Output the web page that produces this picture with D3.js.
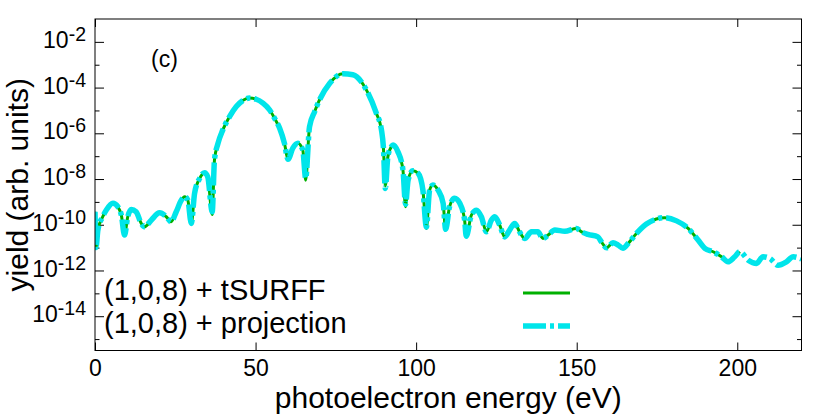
<!DOCTYPE html>
<html>
<head>
<meta charset="utf-8">
<script src="https://cdn.jsdelivr.net/npm/d3@7"></script>
<style>
body { margin: 0; background: #fff; }
text { font-family: "Liberation Sans", Arial, sans-serif; fill: #000; }
</style>
</head>
<body>
<script>
var width = 830;
var height = 415;

// photoelectron energy (eV)
var energy = [0, 0.3, 0.9, 2.4, 3.5, 5.6, 7.1, 8.2, 9.2, 10.2, 11.3, 12.8, 14.4, 15.4, 17.5, 20.1, 22.2, 23.7, 25.3, 26.9,
    27.9, 28.9, 30.0, 31.0, 32.6, 34.1, 35.1, 36.5, 37.2, 38.3, 39.8, 41.9, 44.0, 46.0, 48.1, 50.2, 52.3, 54.4, 55.9, 57.5,
    59.0, 60.1, 61.6, 63.2, 64.7, 65.6, 66.8, 68.4, 69.9, 73.1, 77.2, 80.3, 84.5, 87.6, 89.2, 89.8, 90.4, 91.2, 92.3, 92.8,
    94.3, 95.9, 96.7, 97.5, 99.0, 100.6, 102.1, 103.2, 104.2, 105.2, 106.8, 108.4, 109.2, 110.4, 112.0, 113.6, 115.1, 115.6, 117.2, 118.8,
    120.3, 121.9, 123.4, 124.5, 126.0, 127.6, 129.1, 130.7, 132.2, 133.8, 135.9, 137.9, 139.5, 141.1, 143.2, 146.3, 149.9, 151.5, 153.5, 156.6,
    157.7, 159.3, 161.3, 162.9, 164.4, 166.0, 168.6, 171.7, 174.8, 177.4, 181.1, 184.7, 187.8, 189.9, 192.5, 195.1, 197.1, 199.2, 200.8, 203.4,
    206.0, 208.0, 210.1, 212.7, 215.3, 217.4, 219.5, 220];

// log10 of yield, (1,0,8) + projection
var projection = [-9.43, -11.0, -10.23, -9.65, -9.36, -9.06, -9.21, -9.58, -10.45, -9.65, -9.33, -9.43, -9.94, -10.09, -9.80, -9.48, -9.65, -9.87, -9.43, -8.92,
    -8.77, -8.92, -9.94, -8.63, -7.97, -7.72, -7.90, -9.43, -7.17, -6.44, -5.85, -5.27, -4.83, -4.57, -4.46, -4.51, -4.68, -4.98, -5.34, -5.78,
    -6.44, -7.14, -6.65, -6.44, -6.73, -7.97, -5.71, -5.05, -4.54, -3.81, -3.40, -3.44, -4.10, -5.12, -5.85, -6.60, -8.41, -7.02, -6.58, -6.51,
    -6.80, -7.61, -9.10, -8.04, -7.64, -7.75, -8.48, -10.10, -8.48, -8.26, -8.48, -9.06, -10.20, -9.21, -8.84, -9.06, -9.80, -10.50, -9.58, -9.36,
    -9.65, -10.31, -9.80, -9.65, -10.01, -10.53, -10.23, -9.94, -10.31, -10.60, -10.31, -10.31, -10.60, -10.45, -10.23, -10.28, -10.16, -10.31, -10.42, -10.53,
    -10.75, -11.01, -10.79, -10.89, -11.03, -10.82, -10.38, -9.97, -9.75, -9.69, -9.83, -10.16, -10.67, -11.03, -11.18, -11.40, -11.62, -11.40, -11.18, -11.55,
    -11.69, -11.40, -11.47, -11.77, -11.62, -11.40, -11.47, -11.50];

// log10 of yield, (1,0,8) + tSURFF (ends near 200 eV)
var tsurff = [-9.43, -11.0, -10.23, -9.65, -9.36, -9.06, -9.21, -9.58, -10.45, -9.65, -9.33, -9.43, -9.94, -10.09, -9.80, -9.48, -9.65, -9.87, -9.43, -8.92,
    -8.77, -8.92, -9.94, -8.63, -7.97, -7.72, -7.90, -9.55, -7.17, -6.44, -5.85, -5.27, -4.83, -4.57, -4.46, -4.51, -4.68, -4.98, -5.34, -5.78,
    -6.44, -7.14, -6.65, -6.44, -6.73, -8.05, -5.71, -5.05, -4.54, -3.81, -3.40, -3.44, -4.10, -5.12, -5.85, -6.60, -8.30, -7.02, -6.58, -6.51,
    -6.80, -7.61, -9.21, -8.04, -7.64, -7.75, -8.48, -10.16, -8.48, -8.26, -8.48, -9.06, -10.23, -9.21, -8.84, -9.06, -9.80, -10.53, -9.58, -9.36,
    -9.65, -10.31, -9.80, -9.65, -10.01, -10.53, -10.23, -9.94, -10.31, -10.60, -10.31, -10.31, -10.60, -10.45, -10.23, -10.28, -10.16, -10.31, -10.42, -10.53,
    -10.75, -11.01, -10.79, -10.89, -11.03, -10.82, -10.38, -9.97, -9.75, -9.69, -9.83, -10.16, -10.67, -11.03, -11.18, -11.40, -11.62, -11.40, -11.18];

var xTicks = [0, 50, 100, 150, 200];
var yMajor = [-2, -4, -6, -8, -10, -12, -14];
var yMinor = [-3, -5, -7, -9, -11, -13, -15];
var legendLabels = ["(1,0,8) + tSURFF", "(1,0,8) + projection"];
var panelLabel = "(c)";

var plotLeft = 95, plotRight = 801.5, plotTop = 19, plotBottom = 350.5;
var green = "#00b000", cyan = "#00e5ea";

var svg = d3.select("body")
    .append("svg")
    .attr("width", width)
    .attr("height", height);

var x = d3.scaleLinear().domain([0, 220]).range([plotLeft, plotRight]);
var y = d3.scaleLog().domain([Math.pow(10, -15.5), 0.1]).range([plotBottom, plotTop]);
var pow10 = function(v) { return Math.pow(10, v); };

function tidy(g) {
    g.select(".domain").remove();
    g.selectAll(".tick line").attr("stroke", "#000").attr("stroke-width", 1);
}

// x axes
svg.append("g")
    .attr("transform", "translate(0," + plotBottom + ")")
    .call(d3.axisBottom(x).tickValues(xTicks).tickSizeInner(-8).tickSizeOuter(0).tickPadding(9))
    .call(tidy)
    .selectAll("text").attr("font-size", 23).attr("font-family", null);
svg.append("g")
    .attr("transform", "translate(0," + plotTop + ")")
    .call(d3.axisTop(x).tickValues(xTicks).tickSizeInner(-8).tickSizeOuter(0).tickFormat(""))
    .call(tidy);

// y axes
var yLeft = svg.append("g")
    .attr("transform", "translate(" + plotLeft + ",0)")
    .call(d3.axisLeft(y).tickValues(yMajor.map(pow10)).tickSizeInner(-9).tickSizeOuter(0).tickPadding(9))
    .call(tidy);
yLeft.selectAll(".tick text")
    .attr("font-size", 23)
    .attr("font-family", null)
    .attr("dy", "0.24em")
    .text(null)
    .each(function(d) {
        var t = d3.select(this);
        t.append("tspan").text("10");
        t.append("tspan").attr("font-size", 19.5).attr("dy", -7).text(Math.round(Math.log10(d)));
    });
svg.append("g")
    .attr("transform", "translate(" + plotLeft + ",0)")
    .call(d3.axisLeft(y).tickValues(yMinor.map(pow10)).tickSizeInner(-4.5).tickSizeOuter(0).tickFormat(""))
    .call(tidy);
svg.append("g")
    .attr("transform", "translate(" + plotRight + ",0)")
    .call(d3.axisRight(y).tickValues(yMajor.map(pow10)).tickSizeInner(-9).tickSizeOuter(0).tickFormat(""))
    .call(tidy);
svg.append("g")
    .attr("transform", "translate(" + plotRight + ",0)")
    .call(d3.axisRight(y).tickValues(yMinor.map(pow10)).tickSizeInner(-4.5).tickSizeOuter(0).tickFormat(""))
    .call(tidy);

// curves
svg.append("clipPath").attr("id", "plot")
    .append("rect")
    .attr("x", plotLeft).attr("y", plotTop)
    .attr("width", plotRight - plotLeft).attr("height", plotBottom - plotTop);

var line = d3.line()
    .x(function(d) { return x(d[0]); })
    .y(function(d) { return y(pow10(d[1])); })
    .curve(d3.curveMonotoneX);

svg.append("path")
    .datum(tsurff.map(function(v, i) { return [energy[i], v]; }))
    .attr("clip-path", "url(#plot)")
    .attr("d", line)
    .attr("fill", "none")
    .attr("stroke", green)
    .attr("stroke-width", 3)
    .attr("stroke-linejoin", "round");

svg.append("path")
    .datum(projection.map(function(v, i) { return [energy[i], v]; }))
    .attr("clip-path", "url(#plot)")
    .attr("d", line)
    .attr("fill", "none")
    .attr("stroke", cyan)
    .attr("stroke-width", 5.5)
    .attr("stroke-dasharray", "23,4,4,4")
    .attr("stroke-linejoin", "round");

// frame
svg.append("rect")
    .attr("x", plotLeft).attr("y", plotTop)
    .attr("width", plotRight - plotLeft).attr("height", plotBottom - plotTop)
    .attr("fill", "none")
    .attr("stroke", "#000")
    .attr("stroke-width", 1);

// legend
var legend = svg.selectAll(".legend")
    .data(legendLabels)
    .enter()
    .append("g")
    .attr("class", "legend")
    .attr("transform", function(d, i) { return "translate(0," + (300 + 33 * i) + ")"; });
legend.append("text")
    .attr("x", 104)
    .attr("font-size", 29)
    .text(function(d) { return d; });
legend.append("line")
    .attr("x1", 523).attr("x2", 570)
    .attr("y1", -7).attr("y2", -7)
    .attr("stroke", function(d, i) { return i === 0 ? green : cyan; })
    .attr("stroke-width", function(d, i) { return i === 0 ? 3 : 5.5; })
    .attr("stroke-dasharray", function(d, i) { return i === 0 ? null : "23,4,4,4"; });

svg.append("text")
    .attr("x", 151)
    .attr("y", 67)
    .attr("font-size", 23)
    .text(panelLabel);

// axis titles
svg.append("text")
    .attr("x", (plotLeft + plotRight) / 2)
    .attr("y", 408)
    .attr("text-anchor", "middle")
    .attr("font-size", 30)
    .text("photoelectron energy (eV)");
svg.append("text")
    .attr("transform", "translate(28," + ((plotTop + plotBottom) / 2) + ") rotate(-90)")
    .attr("text-anchor", "middle")
    .attr("font-size", 30)
    .text("yield (arb. units)");
</script>
</body>
</html>
